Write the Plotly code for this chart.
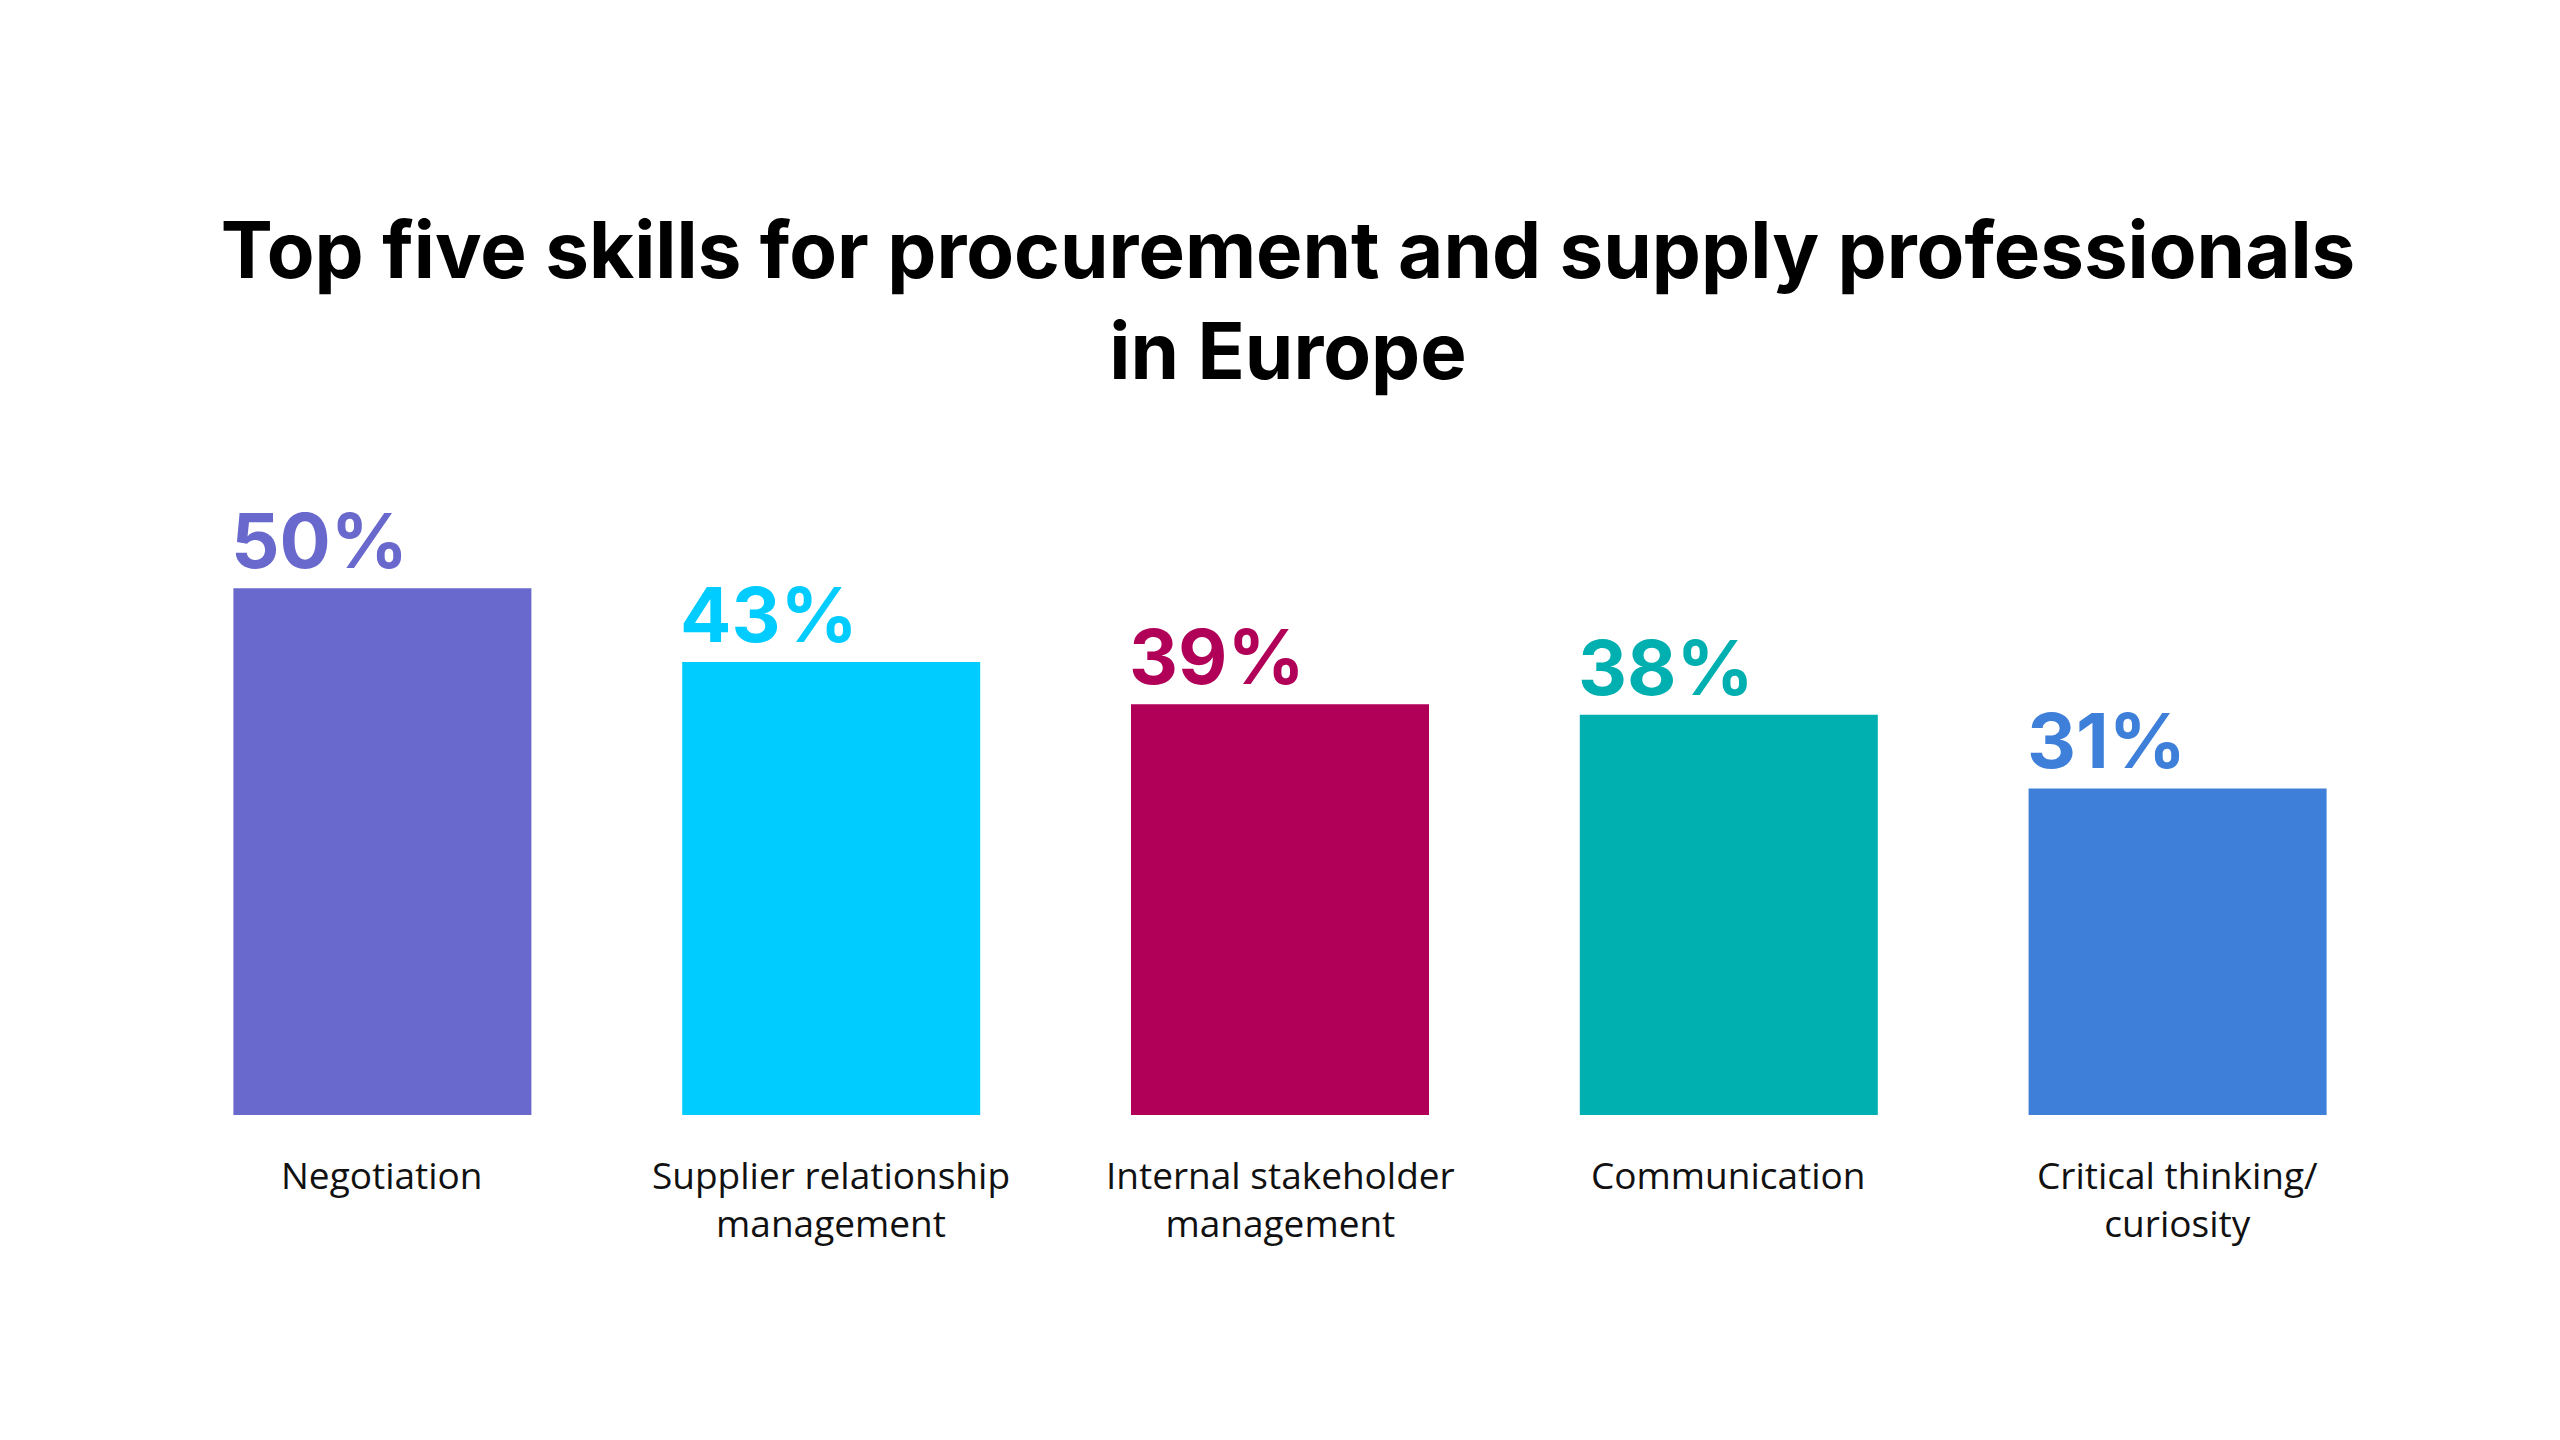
import plotly.graph_objects as go

categories = ["Negotiation", "Supplier relationship<br>management", "Internal stakeholder<br>management",
              "Communication", "Critical thinking/<br>curiosity"]
values = [50, 43, 39, 38, 31]
value_labels = ["50%", "43%", "39%", "38%", "31%"]
colors = ["#6968CC", "#00CCFF", "#B00058", "#00AFAF", "#3E7FDA"]
title_text = "Top five skills for procurement and supply professionals<br>in Europe"

BARGAP = 0.336
xs = list(range(len(categories)))

fig = go.Figure()
fig.add_trace(go.Bar(x=xs, y=values, marker=dict(color=colors, line=dict(width=0)),
                     hoverinfo="skip", showlegend=False))

annotations = []
half = (1 - BARGAP) / 2
for i, (v, lab, c) in enumerate(zip(values, value_labels, colors)):
    annotations.append(dict(x=i - half, y=v, xref="x", yref="y", text=lab, showarrow=False,
                            xanchor="left", yanchor="bottom", yshift=0, xshift=-4,
                            font=dict(family="Inter", size=76, color=c, weight=700)))
for i, cat in enumerate(categories):
    annotations.append(dict(x=i, y=0, xref="x", yref="y", text=cat, showarrow=False,
                            xanchor="center", yanchor="top", yshift=-32, align="center",
                            font=dict(family="Open Sans", size=37, color="#111111")))

fig.update_layout(
    width=2560, height=1440,
    paper_bgcolor="white", plot_bgcolor="white",
    margin=dict(l=150, r=166, t=475, b=333),
    bargap=BARGAP,
    title=dict(text=title_text, x=0.5, xanchor="center", y=1 - 270 / 1440, yanchor="top",
               font=dict(family="Inter", size=78, color="black", weight=700)),
    xaxis=dict(range=[-0.5, 4.5], showticklabels=False, showgrid=False, zeroline=False,
               showline=False, ticks=""),
    yaxis=dict(range=[0, 60], showticklabels=False, showgrid=False, zeroline=False,
               showline=False, ticks=""),
    annotations=annotations,
)

fig.write_html("out.html")
